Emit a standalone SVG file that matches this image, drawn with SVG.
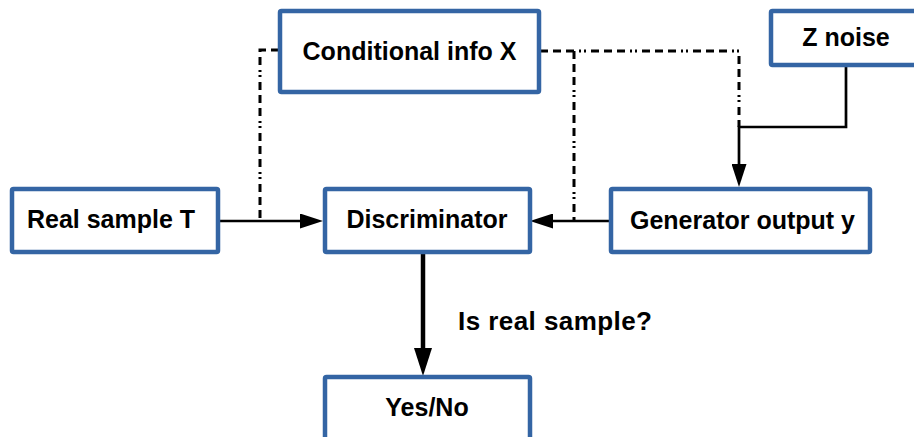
<svg xmlns="http://www.w3.org/2000/svg" width="914" height="437" viewBox="0 0 914 437">
<style>
.box{fill:#fff;stroke:#3465a4;stroke-width:4.5}
.lbl{font-family:"Liberation Sans",Arial,sans-serif;font-weight:bold;font-size:25px;fill:#000;text-anchor:middle}
.edge{fill:none;stroke:#000;stroke-width:2.7}
.thick{fill:none;stroke:#000;stroke-width:4.5}
.dd{fill:none;stroke:#000;stroke-width:3;stroke-dasharray:8 5 8 5 8 5 2 3 2 5}
.note{font-family:"Liberation Sans",Arial,sans-serif;font-weight:bold;font-size:26px;fill:#000}
</style>
<defs>
<marker id="ah" viewBox="0 0 23 15" refX="0" refY="7.5" markerWidth="23" markerHeight="15" markerUnits="userSpaceOnUse" orient="auto">
<path d="M0,0 L23,7.5 L0,15 z" fill="#000"/>
</marker>
<marker id="ahb" viewBox="0 0 28 18" refX="0" refY="9" markerWidth="28" markerHeight="18" markerUnits="userSpaceOnUse" orient="auto">
<path d="M0,0 L28,9 L0,18 z" fill="#000"/>
</marker>
</defs>
<g id="connectors">
<path class="edge" d="M219,221 H300" marker-end="url(#ah)"/>
<path class="edge" d="M609,221 H553" marker-end="url(#ah)"/>
<path class="edge" d="M846,66 V127 H739 V164" marker-end="url(#ah)"/>
<path class="thick" d="M423,254 V348" marker-end="url(#ahb)"/>
<path class="dd" d="M279,50 H260 V221"/>
<path class="dd" d="M540,51 H739 V127"/>
<path class="dd" d="M574,51 V221"/>
</g>
<g id="conditional">
<rect class="box" x="280" y="11" width="259" height="81" rx="1.5"/>
<text class="lbl" x="409.5" y="60">Conditional info X</text>
</g>
<g id="znoise">
<rect class="box" x="771" y="11" width="150" height="54" rx="1.5"/>
<text class="lbl" x="846" y="46">Z noise</text>
</g>
<g id="real">
<rect class="box" x="12" y="189" width="206" height="63" rx="1.5"/>
<text class="lbl" x="111" y="228">Real sample T</text>
</g>
<g id="discriminator">
<rect class="box" x="325" y="189" width="205" height="63" rx="1.5"/>
<text class="lbl" x="427" y="228">Discriminator</text>
</g>
<g id="generator">
<rect class="box" x="611" y="189" width="259" height="63" rx="1.5"/>
<text class="lbl" x="742.5" y="229">Generator output y</text>
</g>
<g id="yesno">
<rect class="box" x="325" y="377" width="205" height="70" rx="1.5"/>
<text class="lbl" x="427" y="416">Yes/No</text>
</g>
<text class="note" x="458" y="330" textLength="194" lengthAdjust="spacing">Is real sample?</text>
</svg>
